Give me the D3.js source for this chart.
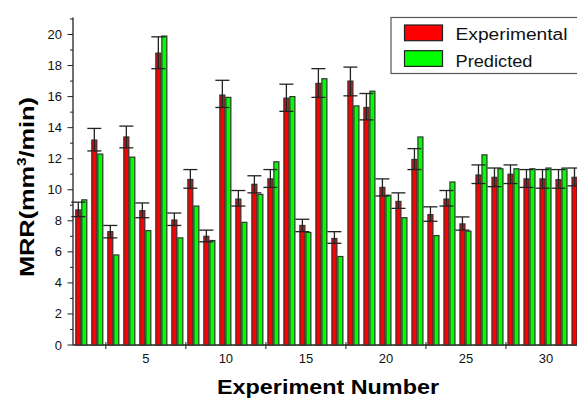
<!DOCTYPE html>
<html>
<head>
<meta charset="utf-8">
<script src="https://cdn.jsdelivr.net/npm/d3@7/dist/d3.min.js"></script>
<style>
  body { margin: 0; background: #fff; }
  svg { display: block; font-family: Arial, "Liberation Sans", sans-serif; }
</style>
</head>
<body>
<div id="chart"></div>
<script>
const experiments = [1,2,3,4,5,6,7,8,9,10,11,12,13,14,15,16,17,18,19,20,21,22,23,24,25,26,27,28,29,30,31,32];
const experimental = [8.7,13.2,7.3,13.4,8.65,18.8,8.05,10.66,7.0,16.1,9.4,10.35,10.7,15.9,7.7,16.85,6.86,17.0,15.3,10.15,9.25,11.95,8.4,9.4,7.8,10.95,10.8,11.0,10.7,10.7,10.65,10.8];
const predicted = [9.35,12.3,5.8,12.1,7.37,19.9,6.9,8.95,6.73,15.95,7.9,9.7,11.8,16.0,7.25,17.15,5.7,15.4,16.35,9.65,8.2,13.4,7.05,10.5,7.33,12.25,11.35,11.35,11.35,11.4,11.4,11.4];
const errHigh = [9.2,13.95,7.7,14.1,9.15,19.85,8.5,11.3,7.4,17.05,9.95,10.9,11.3,16.8,8.1,17.8,7.3,17.9,16.2,10.7,9.8,12.65,8.9,9.95,8.25,11.6,11.4,11.6,11.3,11.3,11.3,11.4];
const errLow = [8.27,12.5,6.9,12.7,8.2,17.8,7.7,10.1,6.65,15.3,8.95,9.8,10.15,15.05,7.3,15.95,6.55,16.05,14.5,9.6,8.8,11.3,7.97,8.95,7.4,10.4,10.2,10.4,10.15,10.1,10.1,10.25];
const yTicks = [0,2,4,6,8,10,12,14,16,18,20];
const xTicks = [5,10,15,20,25,30];
const seriesNames = ['Experimental', 'Predicted'];
const seriesColors = ['#ff0000', '#00ff00'];

const width = 577, height = 400;
const data = experiments.map((n, i) => ({
  n, exp: experimental[i], pred: predicted[i], hi: errHigh[i], lo: errLow[i]
}));

const svg = d3.select('#chart').append('svg')
  .attr('width', width)
  .attr('height', height);

const x = d3.scaleLinear().domain([0.45, 32.5]).range([73, 586]);
const y = d3.scaleLinear().domain([0, 20]).range([345, 34.5]);
const yTop = 21.1;

// axes first so bars sit over the inward ticks
const axisColor = '#222';

// y axis line + ticks
svg.append('line')
  .attr('x1', x(0.45)).attr('x2', x(0.45))
  .attr('y1', y(0)).attr('y2', y(yTop))
  .attr('stroke', axisColor).attr('stroke-width', 1.3);

const yMinor = d3.range(1, 22, 2);
svg.selectAll('.ytick-minor').data(yMinor).join('line')
  .attr('x1', x(0.45) - 3).attr('x2', x(0.45))
  .attr('y1', d => y(d)).attr('y2', d => y(d))
  .attr('stroke', axisColor);

svg.selectAll('.ytick').data(yTicks).join('line')
  .attr('x1', x(0.45) - 5.5).attr('x2', x(0.45))
  .attr('y1', d => y(d)).attr('y2', d => y(d))
  .attr('stroke', axisColor);

svg.selectAll('.ylab').data(yTicks).join('text')
  .attr('x', 62)
  .attr('y', d => y(d) + 4.5)
  .attr('text-anchor', 'end')
  .attr('font-size', 13)
  .attr('fill', '#111')
  .text(d => d);

// x axis line + ticks
svg.append('line')
  .attr('x1', x(0.45)).attr('x2', width)
  .attr('y1', y(0)).attr('y2', y(0))
  .attr('stroke', axisColor).attr('stroke-width', 1.3);

svg.selectAll('.xtick').data(xTicks).join('line')
  .attr('x1', d => x(d)).attr('x2', d => x(d))
  .attr('y1', y(0)).attr('y2', y(0) - 5)
  .attr('stroke', axisColor);

const xMinor = d3.range(2.5, 33, 5);
svg.selectAll('.xtick-minor').data(xMinor).join('line')
  .attr('x1', d => x(d)).attr('x2', d => x(d))
  .attr('y1', y(0) - 3).attr('y2', y(0) + 4)
  .attr('stroke', axisColor);

svg.selectAll('.xlab').data(xTicks).join('text')
  .attr('x', d => x(d))
  .attr('y', 363)
  .attr('text-anchor', 'middle')
  .attr('font-size', 13)
  .attr('fill', '#111')
  .text(d => d);

// bars
const barW = 5;
const bars = svg.append('g');

bars.selectAll('.bar-exp').data(data).join('rect')
  .attr('x', d => x(d.n) - 6)
  .attr('y', d => y(d.exp))
  .attr('width', barW)
  .attr('height', d => y(0) - y(d.exp))
  .attr('fill', seriesColors[0])
  .attr('stroke', '#333')
  .attr('stroke-width', 1.2);

bars.selectAll('.bar-pred').data(data).join('rect')
  .attr('x', d => x(d.n))
  .attr('y', d => y(d.pred))
  .attr('width', barW)
  .attr('height', d => y(0) - y(d.pred))
  .attr('fill', seriesColors[1])
  .attr('stroke', '#333')
  .attr('stroke-width', 1.2);

// error bars on the experimental series
const err = svg.append('g')
  .attr('stroke', '#222')
  .attr('stroke-width', 1.3);

err.selectAll('.err-v').data(data).join('line')
  .attr('x1', d => x(d.n) - 3.5).attr('x2', d => x(d.n) - 3.5)
  .attr('y1', d => y(d.lo)).attr('y2', d => y(d.hi));

err.selectAll('.err-hi').data(data).join('line')
  .attr('x1', d => x(d.n) - 10.5).attr('x2', d => x(d.n) + 3.5)
  .attr('y1', d => y(d.hi)).attr('y2', d => y(d.hi));

err.selectAll('.err-lo').data(data).join('line')
  .attr('x1', d => x(d.n) - 10.5).attr('x2', d => x(d.n) + 3.5)
  .attr('y1', d => y(d.lo)).attr('y2', d => y(d.lo));

// axis titles
svg.append('text')
  .attr('x', 328)
  .attr('y', 394)
  .attr('text-anchor', 'middle')
  .attr('font-size', 20)
  .attr('font-weight', 'bold')
  .attr('textLength', 222)
  .attr('lengthAdjust', 'spacingAndGlyphs')
  .text('Experiment Number');

const yTitle = svg.append('text')
  .attr('transform', 'translate(34,187) rotate(-90)')
  .attr('text-anchor', 'middle')
  .attr('font-size', 20)
  .attr('font-weight', 'bold')
  .attr('textLength', 180)
  .attr('lengthAdjust', 'spacingAndGlyphs');
yTitle.append('tspan').text('MRR(mm');
yTitle.append('tspan').attr('font-size', 12).attr('dy', -8).text('3');
yTitle.append('tspan').attr('dy', 8).text('/min)');

// legend
const legend = svg.append('g');
legend.append('rect')
  .attr('x', 391).attr('y', 17.5)
  .attr('width', 200).attr('height', 56)
  .attr('fill', '#fff')
  .attr('stroke', '#555')
  .attr('stroke-width', 1.2);

seriesNames.forEach((name, i) => {
  legend.append('rect')
    .attr('x', 404.5).attr('y', 25 + i * 25.7)
    .attr('width', 38).attr('height', 15.7)
    .attr('fill', seriesColors[i])
    .attr('stroke', '#222')
    .attr('stroke-width', 1.2);
  legend.append('text')
    .attr('x', 455.5).attr('y', 40 + i * 26.7)
    .attr('font-size', 16)
    .attr('fill', '#111')
    .attr('textLength', i === 0 ? 112 : 77)
    .attr('lengthAdjust', 'spacingAndGlyphs')
    .text(name);
});
</script>
</body>
</html>
